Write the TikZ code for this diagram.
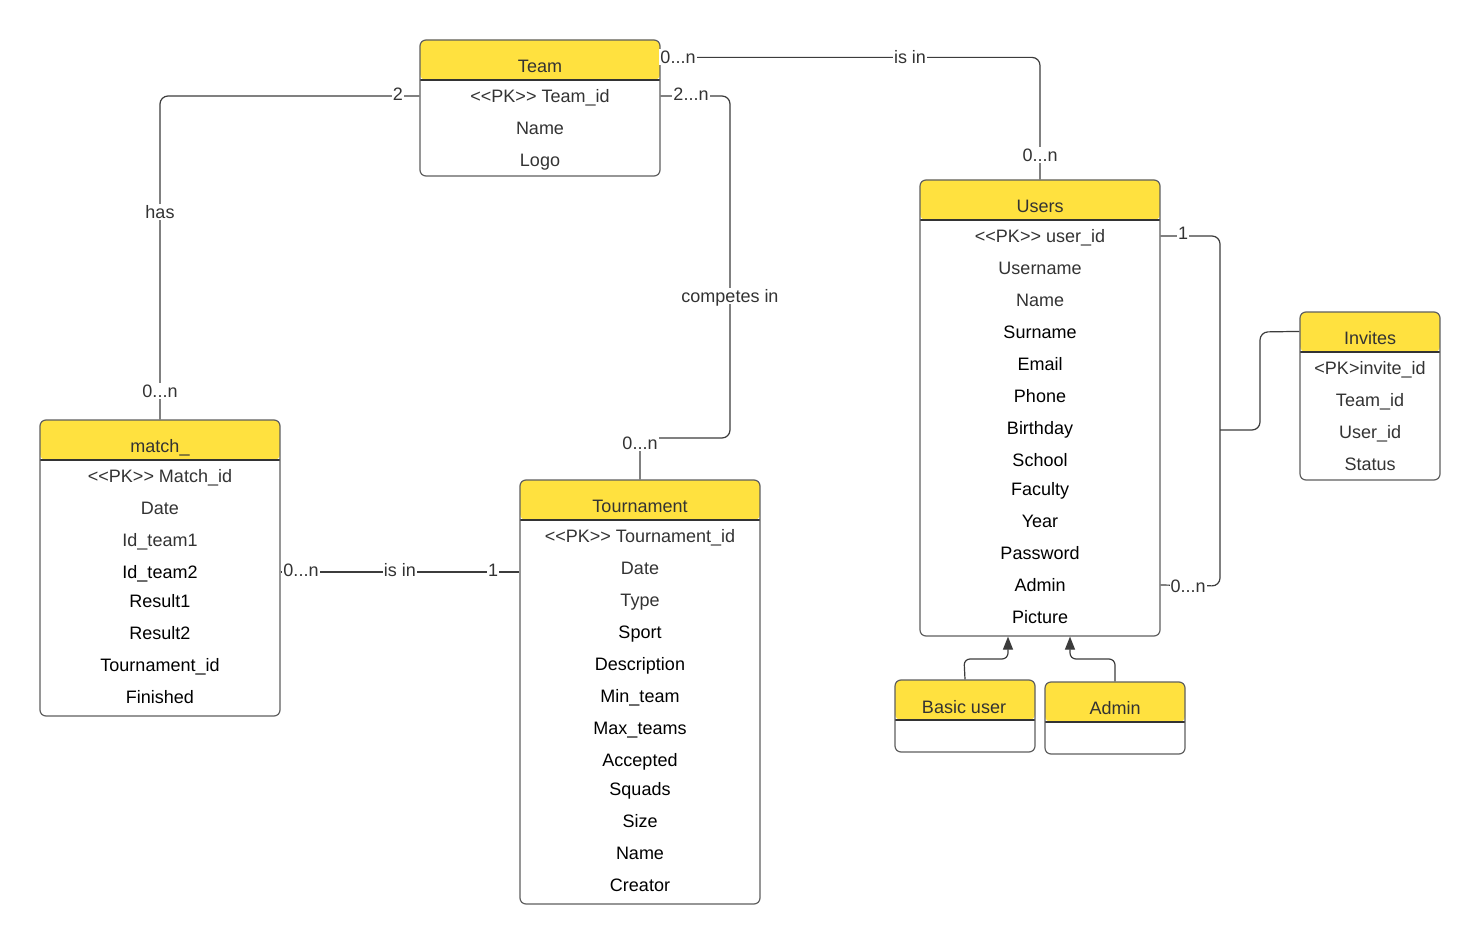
\documentclass[tikz,border=0pt]{standalone}
\usepackage{fontspec}
\setmainfont{Liberation Sans}
\usetikzlibrary{arrows.meta}
\definecolor{hdr}{HTML}{FFE13F}
\definecolor{boxc}{HTML}{5F5F5F}
\definecolor{linec}{HTML}{3C3C3C}
\definecolor{txtg}{HTML}{333333}
\newcommand\myfs{\fontsize{18pt}{21pt}\selectfont}
\newcommand\PKtag{<\kern0pt<PK>\kern0pt>}
\begin{document}
\begin{tikzpicture}[x=1pt,y=-1pt,
  ent/.style={draw=boxc, line width=1.2pt, fill=white, rounded corners=6pt, inner sep=0pt,
    path picture={\fill[hdr] (path picture bounding box.north west) rectangle ([yshift=-40pt]path picture bounding box.north east);
      \draw[txtg, line width=1.2pt] ([yshift=-40pt]path picture bounding box.north west) -- ([yshift=-40pt]path picture bounding box.north east);}},
  txt/.style={font=\myfs, text=txtg, inner sep=0pt, text height=12.9pt, text depth=0pt},
  lab/.style={font=\myfs, text=txtg, fill=white, inner xsep=1pt, inner ysep=2pt, text height=12.9pt, text depth=0pt},
  conn/.style={draw=linec, line width=1.2pt, rounded corners=8pt},
  inh/.style={draw=linec, line width=1.2pt, rounded corners=6pt, -{Triangle[width=10pt,length=13pt]}}
]
\fill[white] (0,0) rectangle (1480,944);
\useasboundingbox (0,0) rectangle (1480,944);

% entities
\node[ent, minimum width=240pt, minimum height=136pt] (team) at (540,108) {};
\node[ent, minimum width=240pt, minimum height=456pt] (users) at (1040,408) {};
\node[ent, minimum width=140pt, minimum height=168pt] (inv) at (1370,396) {};
\node[ent, minimum width=240pt, minimum height=296pt] (match) at (160,568) {};
\node[ent, minimum width=240pt, minimum height=424pt] (tour) at (640,692) {};
\node[ent, minimum width=140pt, minimum height=72pt] (basic) at (965,716) {};
\node[ent, minimum width=140pt, minimum height=72pt] (adm) at (1115,718) {};

% titles
\node[txt] (teamT) at (540,66.5) {Team};
\node[txt] (usersT) at (1040,206.5) {Users};
\node[txt] (invT) at (1370,338.5) {Invites};
\node[txt] (matchT) at (160,446.5) {match\_};
\node[txt] (tourT) at (640,506.5) {Tournament};
\node[txt] (basicT) at (964,707) {Basic user};
\node[txt] (admT) at (1115,708.5) {Admin};

% attributes
\foreach \t/\y/\c [count=\i] in {\PKtag{} Team\_id/96/txtg, Name/128/txtg, Logo/160/txtg}
  \node[txt, text=\c] (team-\i) at (540,\y) {\t};
\foreach \t/\y/\c [count=\i] in {\PKtag{} user\_id/236/txtg, Username/268/txtg, Name/300/txtg,
    Surname/332/black, Email/364/black, Phone/396/black, Birthday/428/black, School/460/black,
    Faculty/489/black, Year/521/black, Password/553/black, Admin/585/black, Picture/617/black}
  \node[txt, text=\c] (users-\i) at (1040,\y) {\t};
\foreach \t/\y/\c [count=\i] in {<PK>invite\_id/368/txtg, Team\_id/400/txtg, User\_id/432/txtg, Status/464/txtg}
  \node[txt, text=\c] (inv-\i) at (1370,\y) {\t};
\foreach \t/\y/\c [count=\i] in {\PKtag{} Match\_id/476/txtg, Date/508/txtg, Id\_team1/540/txtg,
    Id\_team2/572/black, Result1/601/black, Result2/633/black, Tournament\_id/665/black, Finished/697/black}
  \node[txt, text=\c] (match-\i) at (160,\y) {\t};
\foreach \t/\y/\c [count=\i] in {\PKtag{} Tournament\_id/536/txtg, Date/568/txtg, Type/600/txtg,
    Sport/632/black, Description/664/black, Min\_team/696/black, Max\_teams/728/black, Accepted/760/black,
    Squads/789/black, Size/821/black, Name/853/black, Creator/885/black}
  \node[txt, text=\c] (tour-\i) at (640,\y) {\t};

% connectors
\draw[conn] (team.west |- team-1) -| (match.north);
\draw[conn] (tour.north) |- (730,438) -- (730,96) -- (team.east |- team-1);
\draw[conn] ([yshift=-18pt]team.north east) -| (users.north);
\draw[conn] (match.east |- match-4) -- (tour.west |- match-4);
\draw[conn] (users.east |- users-1) -- (1220,236) -- (1220,586) -- (users.east |- users-12);
\draw[conn] ([yshift=-20pt]inv.north west) -- (1260,332) -- (1260,430) -- (1220,430);
\draw[inh] (basic.north) -- (964,659) -- (1008,659) -- ([xshift=-32pt]users.south);
\draw[inh] (adm.north) -- (1115,659) -- (1070,659) -- ([xshift=30pt]users.south);

% labels
\node[lab] (l1) at (398,94) {2};
\node[lab] (l2) at (160,212) {has};
\node[lab] (l3) at (160,391) {0...n};
\node[lab] (l4) at (691,94) {2...n};
\node[lab] (l5) at (730,296) {competes in};
\node[lab] (l6) at (640,443) {0...n};
\node[lab] (l7) at (678,57) {0...n};
\node[lab] (l8) at (910,57) {is in};
\node[lab] (l9) at (1040,155) {0...n};
\node[lab] (l10) at (301,570) {0...n};
\node[lab] (l11) at (400,570) {is in};
\node[lab] (l12) at (493,570) {1};
\node[lab] (l13) at (1183,233) {1};
\node[lab] (l14) at (1188,586) {0...n};
\end{tikzpicture}
\end{document}
